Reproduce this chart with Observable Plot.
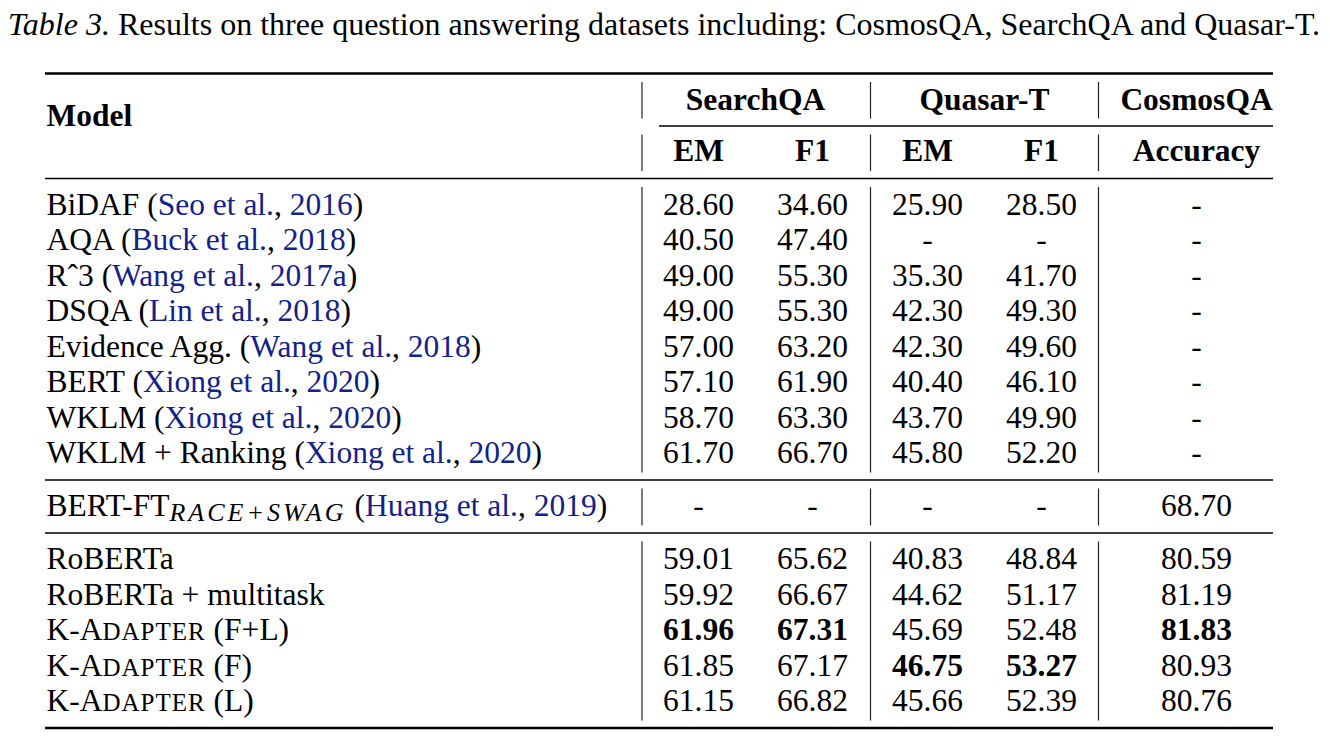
<!DOCTYPE html>
<html>
<head>
<meta charset="utf-8">
<script src="https://cdn.jsdelivr.net/npm/d3@7"></script>
<script src="https://cdn.jsdelivr.net/npm/@observablehq/plot@0.6"></script>
<style>
  html, body { margin: 0; padding: 0; background: #fff; }
  #caption {
    font-family: "Liberation Serif", "Times New Roman", serif;
    font-size: 32px; line-height: 1; color: #000;
    box-sizing: border-box; height: 55px; padding-top: 8px; padding-left: 8px;
    white-space: nowrap;
  }
  #chart svg { display: block; }
</style>
</head>
<body>
<div id="caption"><i>Table 3.</i> Results on three question answering datasets including: CosmosQA, SearchQA and Quasar-T.</div>
<div id="chart"></div>
<script>
// ---------------- data ----------------
const models = ["BiDAF", "AQA", "Rˆ3", "DSQA", "Evidence Agg.", "BERT", "WKLM", "WKLM + Ranking",
  "BERT-FT", "RoBERTa", "RoBERTa + multitask", "K-Adapter (F+L)", "K-Adapter (F)", "K-Adapter (L)"];
const modelSubscripts = [null, null, null, null, null, null, null, null, "RACE+SWAG", null, null, null, null, null];
const smallCapsModels = [false, false, false, false, false, false, false, false, false, false, false, true, true, true];
const citeAuthors = ["Seo et al.", "Buck et al.", "Wang et al.", "Lin et al.", "Wang et al.", "Xiong et al.",
  "Xiong et al.", "Xiong et al.", "Huang et al.", null, null, null, null, null];
const citeYears = ["2016", "2018", "2017a", "2018", "2018", "2020", "2020", "2020", "2019", null, null, null, null, null];
const rowGroups = [0, 0, 0, 0, 0, 0, 0, 0, 1, 2, 2, 2, 2, 2];

const datasets = ["SearchQA", "Quasar-T", "CosmosQA"];
const metrics = ["EM", "F1", "EM", "F1", "Accuracy"];
const metricDataset = [0, 0, 1, 1, 2];
const modelHeader = "Model";

const searchEM  = [28.60, 40.50, 49.00, 49.00, 57.00, 57.10, 58.70, 61.70, null, 59.01, 59.92, 61.96, 61.85, 61.15];
const searchF1  = [34.60, 47.40, 55.30, 55.30, 63.20, 61.90, 63.30, 66.70, null, 65.62, 66.67, 67.31, 67.17, 66.82];
const quasarEM  = [25.90, null, 35.30, 42.30, 42.30, 40.40, 43.70, 45.80, null, 40.83, 44.62, 45.69, 46.75, 45.66];
const quasarF1  = [28.50, null, 41.70, 49.30, 49.60, 46.10, 49.90, 52.20, null, 48.84, 51.17, 52.48, 53.27, 52.39];
const cosmosAcc = [null, null, null, null, null, null, null, null, 68.70, 80.59, 81.19, 81.83, 80.93, 80.76];
const columns = [searchEM, searchF1, quasarEM, quasarF1, cosmosAcc];

// ---------------- layout (positions/styles, kept apart from data) ----------------
const W = 1330, H = 746, captionH = 55;
const layout = {
  colCenters: [698, 812, 927, 1041, 1196],
  modelX: 46,
  tableLeft: 45, tableRight: 1273, cmidLeft: 659,
  separators: [641.5, 870, 1098],
  headerBaseline1: 109, headerBaseline2: 160, modelHeaderBaseline: 125,
  topRule: 73, cmidRule: 125.5, headerRule: 178,
  firstRowBaseline: 214, rowStep: 35.5, groupStep: 53, ruleBelowBaseline: 17,
  vInsetTop: 9, vInsetBottom: 7,
  fontSize: 31.5, citeColor: "#132288",
  smallCapsSize: "25px", smallCapsSpacing: "1px",
  subSize: "26px", subSpacing: "3px", subShift: 5
};
const font = '"Liberation Serif", "Times New Roman", serif';

// row baselines
const baselines = models.map((_, i) => layout.firstRowBaseline + i * layout.rowStep + rowGroups[i] * (layout.groupStep - layout.rowStep));
const nGroups = d3.max(rowGroups) + 1;
const groupRules = d3.range(nGroups).map(g => {
  const last = d3.max(baselines.filter((_, i) => rowGroups[i] === g));
  return last + layout.ruleBelowBaseline;
});
const bottomRule = groupRules[nGroups - 1];

const thickRules = [
  {y: layout.topRule, x1: layout.tableLeft, x2: layout.tableRight},
  {y: bottomRule, x1: layout.tableLeft, x2: layout.tableRight}
];
const thinRules = [
  {y: layout.cmidRule, x1: layout.cmidLeft, x2: layout.tableRight},
  {y: layout.headerRule, x1: layout.tableLeft, x2: layout.tableRight},
  ...groupRules.slice(0, -1).map(y => ({y, x1: layout.tableLeft, x2: layout.tableRight}))
];
const bands = [layout.topRule, layout.cmidRule, layout.headerRule, ...groupRules];
const vSegs = [];
for (const sx of layout.separators) {
  for (let k = 0; k < bands.length - 1; k++) {
    vSegs.push({x: sx, y1: bands[k] + layout.vInsetTop, y2: bands[k + 1] - layout.vInsetBottom});
  }
}

// cells
const colMax = columns.map(col => d3.max(col));
const cells = [];
models.forEach((m, i) => {
  columns.forEach((col, c) => {
    const v = col[i];
    cells.push({
      x: layout.colCenters[c], y: baselines[i],
      text: v == null ? "-" : v.toFixed(2),
      bold: v != null && v === colMax[c]
    });
  });
});
const datasetHeaders = datasets.map((d, k) => ({
  text: d,
  x: d3.mean(layout.colCenters.filter((_, c) => metricDataset[c] === k)),
  y: layout.headerBaseline1
}));
const metricHeaders = metrics.map((m, c) => ({text: m, x: layout.colCenters[c], y: layout.headerBaseline2}));
const rows = models.map((m, i) => ({text: m, x: layout.modelX, y: baselines[i], i}));

const fs = layout.fontSize;
const svg = Plot.plot({
  width: W, height: H - captionH,
  margin: 0,
  x: {type: "linear", domain: [0, W], range: [0, W], axis: null},
  y: {type: "linear", domain: [captionH, H], range: [0, H - captionH], axis: null},
  style: {fontFamily: font, fontSize: fs + "px", background: "#fff", color: "#000"},
  marks: [
    Plot.ruleY(thickRules, {y: "y", x1: "x1", x2: "x2", stroke: "#000", strokeWidth: 2.6}),
    Plot.ruleY(thinRules, {y: "y", x1: "x1", x2: "x2", stroke: "#000", strokeWidth: 1.5}),
    Plot.ruleX(vSegs, {x: "x", y1: "y1", y2: "y2", stroke: "#222", strokeWidth: 1.2}),
    Plot.text(datasetHeaders, {x: "x", y: "y", text: "text", fontWeight: "bold", fontSize: fs, textAnchor: "middle", lineAnchor: "bottom", fill: "#000"}),
    Plot.text(metricHeaders, {x: "x", y: "y", text: "text", fontWeight: "bold", fontSize: fs, textAnchor: "middle", lineAnchor: "bottom", fill: "#000"}),
    Plot.text([modelHeader], {x: () => layout.modelX, y: () => layout.modelHeaderBaseline, text: d => d, fontWeight: "bold", fontSize: fs, textAnchor: "start", lineAnchor: "bottom", fill: "#000"}),
    Plot.text(cells.filter(d => !d.bold), {x: "x", y: "y", text: "text", fontSize: fs, textAnchor: "middle", lineAnchor: "bottom", fill: "#000"}),
    Plot.text(cells.filter(d => d.bold), {x: "x", y: "y", text: "text", fontWeight: "bold", fontSize: fs, textAnchor: "middle", lineAnchor: "bottom", fill: "#000"}),
    Plot.text(rows, {x: "x", y: "y", text: "text", fontSize: fs, textAnchor: "start", lineAnchor: "bottom", fill: "#000"})
  ]
});

// rich text for model labels (citations, subscript, small caps)
const done = new Set();
d3.select(svg).selectAll("text").each(function() {
  const content = this.textContent;
  const i = models.indexOf(content);
  if (i < 0 || done.has(i)) return;
  done.add(i);
  const t = d3.select(this);
  t.text(null);
  if (smallCapsModels[i]) {
    // LaTeX-style small caps: capitals full size, lowercase runs as smaller capitals
    const parts = models[i].match(/[a-z]+|[^a-z]+/g);
    for (const p of parts) {
      const sp = t.append("tspan").text(/[a-z]/.test(p) ? p.toUpperCase() : p);
      if (/[a-z]/.test(p)) sp.style("font-size", layout.smallCapsSize).style("letter-spacing", layout.smallCapsSpacing);
    }
  } else {
    t.append("tspan").text(models[i]);
  }
  let shifted = false;
  if (modelSubscripts[i]) {
    t.append("tspan").text(modelSubscripts[i])
      .attr("dy", layout.subShift).style("font-style", "italic")
      .style("font-size", layout.subSize).style("letter-spacing", layout.subSpacing);
    shifted = true;
  }
  if (citeAuthors[i]) {
    const open = t.append("tspan").text(" (");
    if (shifted) open.attr("dy", -layout.subShift);
    t.append("tspan").text(citeAuthors[i]).attr("fill", layout.citeColor);
    t.append("tspan").text(", ");
    t.append("tspan").text(citeYears[i]).attr("fill", layout.citeColor);
    t.append("tspan").text(")");
  }
});

document.getElementById("chart").appendChild(svg);
</script>
</body>
</html>
